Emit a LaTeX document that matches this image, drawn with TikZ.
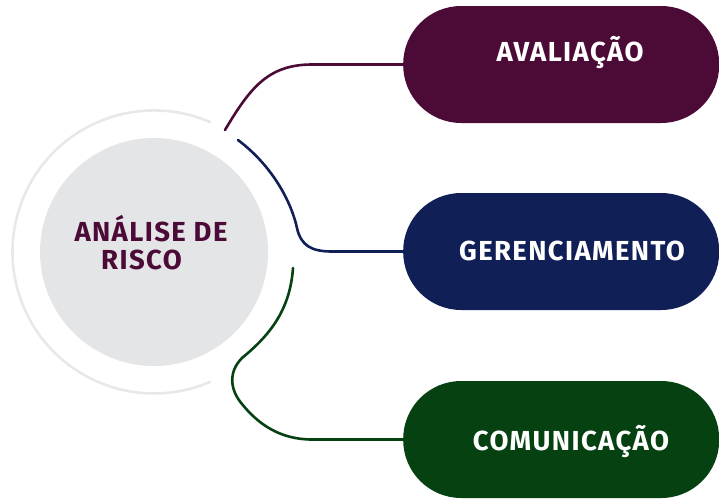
\documentclass[tikz,border=0pt]{standalone}
\usepackage{fontspec}
\setmainfont{Fira Sans}
\usepackage{tikz}
\definecolor{riscopurple}{HTML}{4C0A37}
\definecolor{risconavy}{HTML}{111F57}
\definecolor{riscogreen}{HTML}{064112}
\definecolor{riscogray}{HTML}{E4E5E7}
\definecolor{riscoring}{HTML}{E8E8E8}
\def\pilltext{\fontsize{27.5}{29}\selectfont\bfseries\addfontfeatures{LetterSpace=5}}
\tikzset{
  pill/.style={rectangle, rounded corners=58pt, minimum width=316pt, minimum height=117pt, inner sep=0pt, anchor=west},
  pilllabel/.style={text=white, font=\pilltext, inner sep=0pt},
  link/.style={line width=2.6pt, line cap=round}
}
\begin{document}
\begin{tikzpicture}[x=1pt,y=-1pt]
\useasboundingbox (0,0) rectangle (719,498);
\draw[riscoring, line width=2.6pt, line cap=round] (210,122) arc[start angle=66.7, end angle=293.3, radius=141.5pt];
\node (risco) at (154,252) [circle, fill=riscogray, minimum size=228pt, inner sep=0pt] {};
\node (riscotxt) at (151,243) [text=riscopurple, font=\pilltext, align=center, inner sep=0pt] {ANÁLISE DE\\[-1pt]RISCO\hspace*{19pt}};
\node (aval) at (403,64.5) [pill, fill=riscopurple] {};
\node (ger) at (403,251.5) [pill, fill=risconavy] {};
\node (com) at (403,439.5) [pill, fill=riscogreen] {};
\coordinate (pa) at (225,130);
\coordinate (pb) at (238,140);
\coordinate (pc) at (293,268);
\draw[link, riscopurple] (pa) .. controls (250,88) and (268,64.5) .. (312,64.5) -- (aval.west);
\draw[link, risconavy] (pb) .. controls (275,168) and (292,205) .. (297,228) .. controls (301,246) and (312,251.5) .. (332,251.5) -- (ger.west);
\draw[link, riscogreen] (pc) .. controls (290,310) and (270,335) .. (242,358) .. controls (228,372) and (230,390) .. (242,404) .. controls (258,424) and (280,439.5) .. (312,439.5) -- (com.west);
\node (avaltxt) at (570,52) [pilllabel] {AVALIAÇÃO};
\node (gertxt) at (572,251) [pilllabel] {GERENCIAMENTO};
\node (comtxt) at (571,441) [pilllabel] {COMUNICAÇÃO};
\end{tikzpicture}
\end{document}
